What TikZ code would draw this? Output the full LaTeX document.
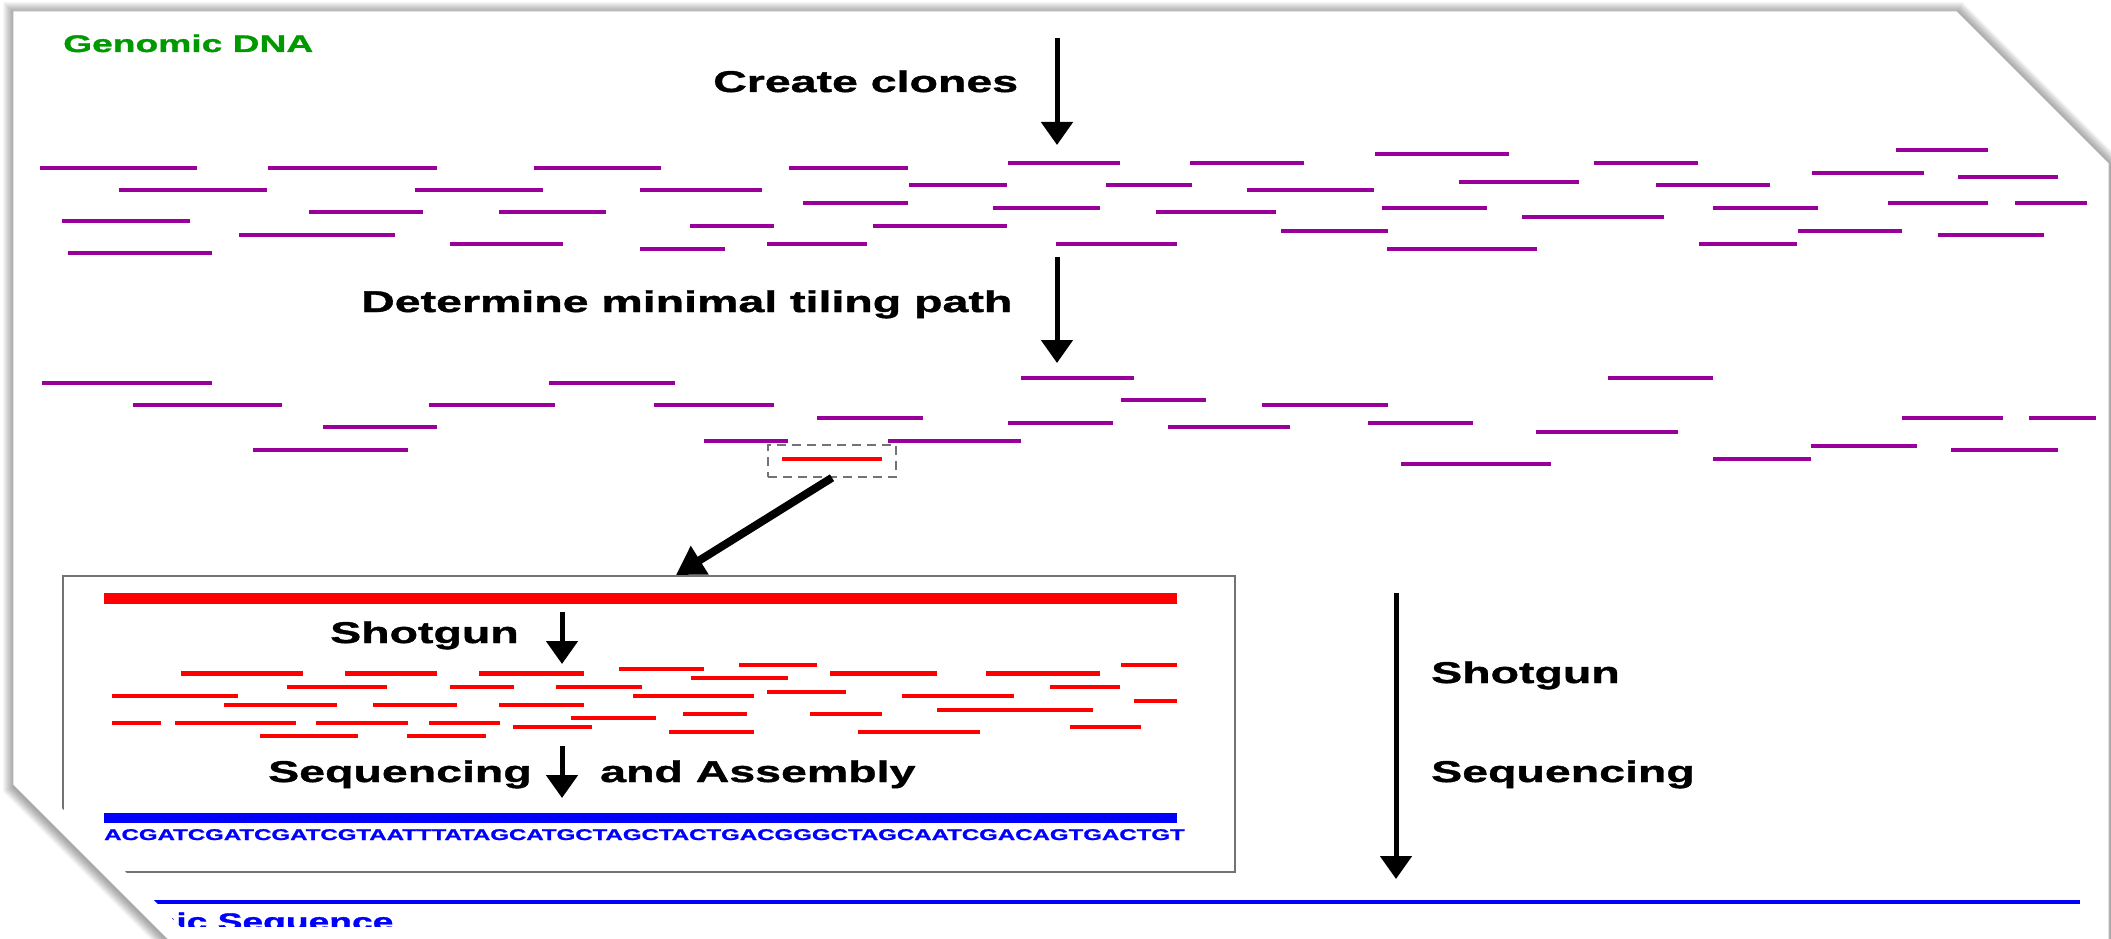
\documentclass[tikz,border=0pt]{standalone}
\usepackage{fontspec}
\usetikzlibrary{arrows.meta}
\newfontfamily\slidefont{Liberation Sans}[FakeStretch=1.55, BoldFeatures={FakeBold=1.3}]
\definecolor{clonepurple}{RGB}{153,0,153}
\definecolor{genomegreen}{RGB}{0,153,0}
\definecolor{seqblue}{RGB}{0,0,255}
\definecolor{fragred}{RGB}{255,0,0}
\definecolor{framegray}{RGB}{115,115,115}

\begin{document}
\begin{tikzpicture}[x=1pt,y=-1pt,
  clone/.style={clonepurple, line width=3.5pt},
  frag/.style={fragred, line width=4.2pt},
  flow/.style={line width=5pt, -{Triangle[width=31pt,length=23pt]}},
  fatflow/.style={line width=8pt, -{Triangle[width=32pt,length=28pt]}},
  lbl/.style={font=\slidefont\bfseries\fontsize{30pt}{36pt}\selectfont, anchor=base west, inner sep=0pt},
  smalllbl/.style={font=\slidefont\bfseries\fontsize{24pt}{28pt}\selectfont, anchor=base west, inner sep=0pt},
  seqlbl/.style={font=\slidefont\bfseries\fontsize{15.5pt}{18pt}\selectfont, anchor=base west, inner sep=0pt, text=seqblue},
  pickbox/.style={draw=framegray, line width=1.5pt, dash pattern=on 9pt off 6pt, minimum width=128pt, minimum height=32pt, inner sep=0pt},
  insetbox/.style={draw=framegray, line width=1.5pt, minimum width=1172pt, minimum height=296pt, inner sep=0pt, anchor=north west}
]
\useasboundingbox (0,0) rectangle (2111,939);
\clip (0,0) rectangle (2111,939);
\fill[white] (0,0) rectangle (2111,939);

% soft shadow around the page
\begin{scope}[shift={(1,2)}]
\foreach \w in {22,20,...,2}
  \draw[black, draw opacity=0.035, line width=\w pt, line join=miter]
    (13,11) -- (1957,11) -- (2109,163) -- (2109,990) -- (218,990) -- (13,785) -- cycle;
\end{scope}

% the page
\fill[white] (13,11) -- (1957,11) -- (2109,163) -- (2109,990) -- (218,990) -- (13,785) -- cycle;
\draw[black!30, line width=0.8pt] (13,11) -- (1957,11) -- (2109,163) -- (2109,990) -- (218,990) -- (13,785) -- cycle;

\begin{scope}
\clip (40,0) -- (2111,0) -- (2111,939) -- (193,939) -- (40,786) -- cycle;

% labels
\node[smalllbl, text=genomegreen] (gdna) at (63,52) {Genomic DNA};
\node[lbl] (cclones) at (713,92) {Create clones};
\node[lbl] (mtp) at (361,312) {Determine minimal tiling path};

% arrows of the main flow
\coordinate (a1s) at (1057,38);  \coordinate (a1e) at (1057,145);
\coordinate (a2s) at (1057,257); \coordinate (a2e) at (1057,363);
\draw[flow] (a1s) -- (a1e);
\draw[flow] (a2s) -- (a2e);

% clone library
\foreach \y/\a/\b in {168/32/197, 168/268/437, 168/534/661, 168/789/908,
  190/119/267, 190/415/543, 190/640/762, 212/309/423, 212/499/606,
  221/62/190, 226/690/774, 235/239/395, 244/450/563, 249/640/725,
  253/68/212, 163/1008/1120, 163/1190/1304, 185/909/1007, 185/1106/1192,
  190/1247/1374, 203/803/908, 208/993/1100, 208/1382/1487, 212/1156/1276,
  226/873/1007, 231/1281/1388, 244/767/867, 244/1056/1177, 249/1387/1537,
  154/1375/1509, 150/1896/1988, 163/1594/1698, 173/1812/1924, 177/1958/2058,
  182/1459/1579, 185/1656/1770, 203/1888/1988, 203/2015/2087, 217/1522/1664,
  208/1713/1818, 231/1798/1902, 235/1938/2044, 244/1699/1797}
  \draw[clone] (\a,\y) -- (\b,\y);

% minimal tiling path
\foreach \y/\a/\b in {383/42/212, 383/549/675, 405/133/282, 405/429/555,
  405/654/774, 427/323/437, 450/253/408, 378/1021/1134, 400/1121/1206,
  405/1262/1388, 418/817/923, 423/1008/1113, 423/1368/1473, 427/1168/1290,
  441/704/788, 441/888/1021, 378/1608/1713, 418/1902/2003, 418/2029/2096,
  432/1536/1678, 446/1811/1917, 450/1951/2058, 459/1713/1811, 464/1401/1551}
  \draw[clone] (\a,\y) -- (\b,\y);

% selected clone
\node[pickbox] (pick) at (832,461) {};
\draw[fragred, line width=4pt] (782,459) -- (882,459);

% close-up of the selected clone
\node[insetbox] (inset) at (62,575) {};
\coordinate (dropin) at (676,575);
\draw[fatflow] (pick.south) -- (dropin);

\draw[fragred, line width=11pt] (104,598) -- (1177,598);
\node[lbl] (shot1) at (330,643) {Shotgun};
\coordinate (a3s) at (562,612); \coordinate (a3e) at (562,664);
\draw[flow] (a3s) -- (a3e);

\foreach \y/\a/\b in {665/739/817, 665/1121/1177, 669/619/704,
  673.5/181/303, 673.5/345/437, 673.5/479/584, 673.5/830/937, 673.5/986/1100,
  678/691/788, 687/287/387, 687/450/514, 687/556/642, 687/1050/1120,
  692/767/846, 696/112/238, 696/633/754, 696/902/1014, 701/1134/1177,
  705/224/337, 705/373/457, 705/499/584, 710/937/1093, 714/683/747,
  714/810/882, 718/571/656, 723/112/161, 723/175/296, 723/316/408,
  723/429/500, 727/513/592, 727/1070/1141, 732/669/754, 732/858/980,
  736/260/358, 736/407/486}
  \draw[frag] (\a,\y) -- (\b,\y);

\node[lbl] (seq1) at (268,782) {Sequencing};
\node[lbl] (asm) at (600,782) {and Assembly};
\coordinate (a4s) at (562,746); \coordinate (a4e) at (562,798);
\draw[flow] (a4s) -- (a4e);

\draw[seqblue, line width=10pt] (104,818) -- (1177,818);
\node[seqlbl] (dna) at (104,840) {ACGATCGATCGATCGTAATTTATAGCATGCTAGCTACTGACGGGCTAGCAATCGACAGTGACTGT};

% direct route on the right
\coordinate (a5s) at (1396,593); \coordinate (a5e) at (1396,879);
\draw[flow] (a5s) -- (a5e);
\node[lbl] (shot2) at (1431,683) {Shotgun};
\node[lbl] (seq2) at (1431,782) {Sequencing};

% assembled genome
\draw[seqblue, line width=3.5pt] (100,902) -- (2080,902);
\begin{scope}
\clip (172,0) rectangle (2111,926);
\node[smalllbl, text=seqblue] (gseq) at (48,930) {Genomic Sequence};
\end{scope}
\end{scope}
\end{tikzpicture}
\end{document}
